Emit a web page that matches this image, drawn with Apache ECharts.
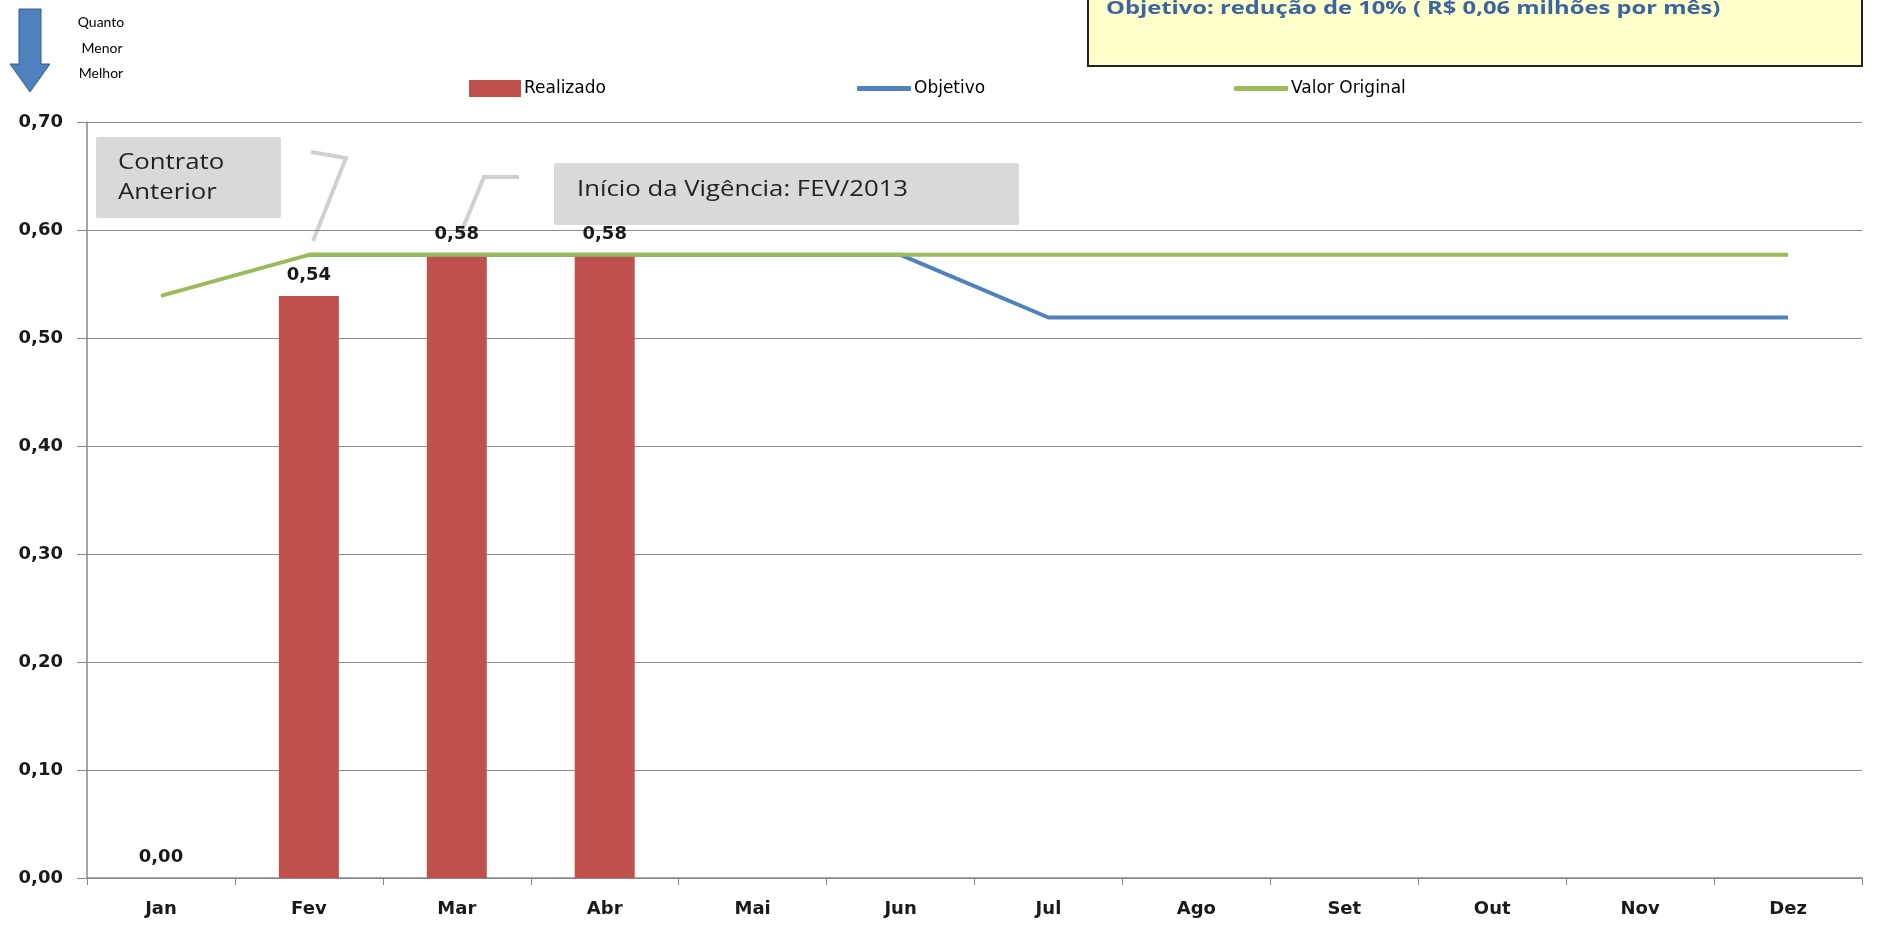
<!DOCTYPE html>
<html>
<head>
<meta charset="utf-8">
<script src="https://cdn.jsdelivr.net/npm/echarts@6/dist/echarts.min.js"></script>
<style>
  html, body { margin: 0; padding: 0; background: #fff; }
  #chart { width: 1889px; height: 931px; }
</style>
</head>
<body>
<div id="chart"></div>
<script>
// monthly values, R$ milhões
const months = ["Jan", "Fev", "Mar", "Abr", "Mai", "Jun", "Jul", "Ago", "Set", "Out", "Nov", "Dez"];
const realizado = [0, 0.539, 0.577, 0.577, null, null, null, null, null, null, null, null];
const objetivo = [null, 0.577, 0.577, 0.577, 0.577, 0.577, 0.519, 0.519, 0.519, 0.519, 0.519, 0.519];
const valorOriginal = [0.539, 0.577, 0.577, 0.577, 0.577, 0.577, 0.577, 0.577, 0.577, 0.577, 0.577, 0.577];

const fmt = (v) => v.toFixed(2).replace(".", ",");
const BOLD = "DejaVu Sans";
const legendText = { fontFamily: "DejaVu Sans", fontSize: 17, color: "#000", padding: [0, 0, 0, -2] };

const chart = echarts.init(document.getElementById("chart"));

const option = {
  animation: false,
  grid: { left: 87, right: 27, top: 122, bottom: 53 },
  legend: [
    { data: ["Realizado"], left: 464, top: 75, icon: "rect", itemWidth: 52, itemHeight: 17, textStyle: legendText },
    { data: ["Objetivo"], left: 852, top: 75, icon: "roundRect", itemWidth: 54, itemHeight: 5, textStyle: legendText },
    { data: ["Valor Original"], left: 1229, top: 75, icon: "roundRect", itemWidth: 54, itemHeight: 5, textStyle: legendText },
  ],
  xAxis: {
    type: "category",
    data: months,
    axisLine: { lineStyle: { color: "#888", width: 1.5 } },
    axisTick: { show: true, length: 7, lineStyle: { color: "#888" } },
    axisLabel: { margin: 22, fontFamily: BOLD, fontWeight: "bold", fontSize: 18, color: "#1a1a1a" },
  },
  yAxis: {
    type: "value",
    min: 0,
    max: 0.7,
    interval: 0.1,
    axisLine: { show: true, lineStyle: { color: "#888", width: 1.5 } },
    axisTick: { show: true, length: 10, lineStyle: { color: "#888" } },
    axisLabel: {
      margin: 24, fontFamily: BOLD, fontWeight: "bold", fontSize: 18, color: "#1a1a1a",
      formatter: (v) => fmt(v),
    },
    splitLine: { lineStyle: { color: "#8c8c8c", width: 1 } },
  },
  series: [
    {
      name: "Realizado",
      type: "bar",
      data: realizado,
      barWidth: 60,
      itemStyle: { color: "#C0504D" },
      label: {
        show: true, position: "top", distance: 12,
        fontFamily: BOLD, fontWeight: "bold", fontSize: 18, color: "#1a1a1a",
        formatter: (p) => fmt(p.value),
      },
    },
    {
      name: "Objetivo",
      type: "line",
      data: objetivo,
      symbol: "none",
      itemStyle: { color: "#4F81BD" },
      lineStyle: { color: "#4F81BD", width: 4 },
    },
    {
      name: "Valor Original",
      type: "line",
      data: valorOriginal,
      symbol: "none",
      itemStyle: { color: "#9BBB59" },
      lineStyle: { color: "#9BBB59", width: 4 },
    },
  ],
  graphic: [
    // "quanto menor melhor" arrow
    {
      type: "polygon",
      shape: { points: [[19, 9], [41, 9], [41, 64], [50, 64], [30, 92], [10, 64], [19, 64]] },
      style: { fill: "#4F81BD", stroke: "#385D8A", lineWidth: 1 },
    },
    { type: "text", x: 101, y: 22, style: { text: "Quanto", fontFamily: "Lato", fontSize: 14, fill: "#000", align: "center", verticalAlign: "middle" } },
    { type: "text", x: 102, y: 48, style: { text: "Menor", fontFamily: "Lato", fontSize: 14, fill: "#000", align: "center", verticalAlign: "middle" } },
    { type: "text", x: 101, y: 73, style: { text: "Melhor", fontFamily: "Lato", fontSize: 14, fill: "#000", align: "center", verticalAlign: "middle" } },
    // objective box
    {
      type: "rect",
      shape: { x: 1088, y: -4, width: 774, height: 70 },
      style: { fill: "#FFFFCC", stroke: "#222", lineWidth: 2 },
    },
    {
      type: "text", x: 1106, y: 9, scaleX: 1.32,
      style: {
        text: "Objetivo: redução de 10% ( R$ 0,06 milhões por mês)",
        fontFamily: "Open Sans", fontWeight: "bold", fontSize: 18, fill: "#3B64A0",
        verticalAlign: "middle",
      },
    },
    // gray notes
    {
      type: "rect", shape: { x: 96, y: 137, width: 185, height: 81, r: 2 },
      style: { fill: "#D9D9D9" },
    },
    {
      type: "text", x: 118, y: 148, scaleX: 1.17,
      style: { text: "Contrato\nAnterior", fontFamily: "Open Sans", fontSize: 22, lineHeight: 30, fill: "#222", verticalAlign: "top" },
    },
    {
      type: "rect", shape: { x: 554, y: 163, width: 465, height: 62, r: 2 },
      style: { fill: "#D9D9D9" },
    },
    {
      type: "text", x: 577, y: 190, scaleX: 1.17,
      style: { text: "Início da Vigência: FEV/2013", fontFamily: "Open Sans", fontSize: 22, fill: "#222", verticalAlign: "middle" },
    },
    {
      type: "polyline", shape: { points: [[311, 152], [346, 158], [313, 241]] },
      style: { stroke: "#D0D0D0", lineWidth: 4, fill: null },
    },
    {
      type: "polyline", shape: { points: [[519, 177], [484, 177], [460, 235]] },
      style: { stroke: "#D0D0D0", lineWidth: 4, fill: null },
    },
  ],
};

chart.setOption(option);
</script>
</body>
</html>
